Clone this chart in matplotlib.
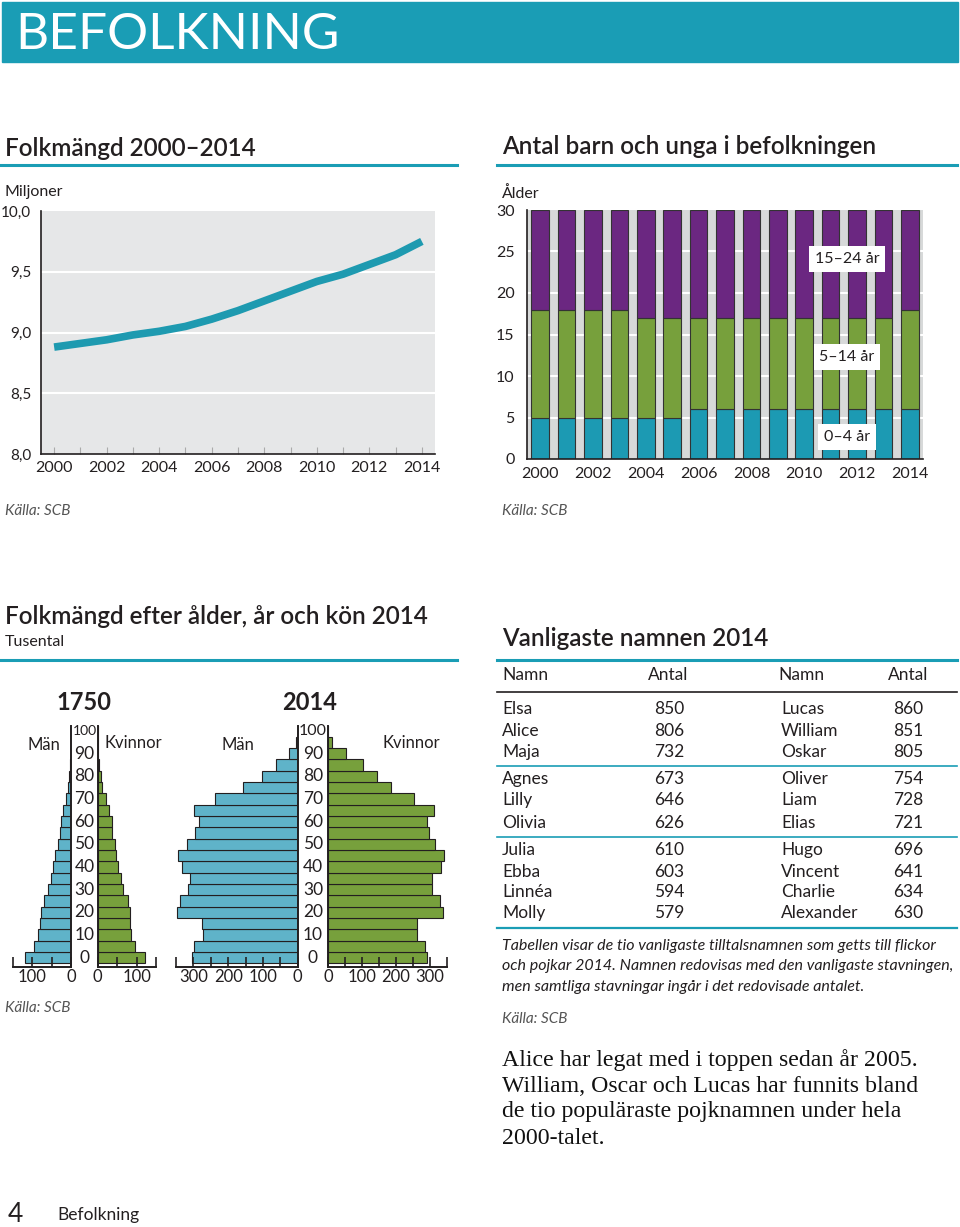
import matplotlib
matplotlib.use("Agg")
import matplotlib.pyplot as plt
from matplotlib.lines import Line2D
from matplotlib.transforms import blended_transform_factory
import numpy as np

# data
years = list(range(2000, 2015))
pop_millions = [8.88, 8.91, 8.94, 8.98, 9.01, 9.05, 9.11, 9.18, 9.26, 9.34,
                9.42, 9.48, 9.56, 9.64, 9.75]

age_0_4 = [5, 5, 5, 5, 5, 5, 6, 6, 6, 6, 6, 6, 6, 6, 6]
age_5_14 = [13, 13, 13, 13, 12, 12, 11, 11, 11, 11, 11, 11, 11, 11, 12]
age_15_24 = [12, 12, 12, 12, 13, 13, 13, 13, 13, 13, 13, 13, 13, 13, 12]
group_labels = ["15–24 år", "5–14 år", "0–4 år"]

ages = list(range(0, 105, 5))  # 0-4 ... 95-99, 100+
men_1750 = [119, 95, 84, 80, 76, 69, 59, 52, 46, 41, 34, 28, 26, 20, 13, 8, 5, 3, 1, 0.5, 0]
women_1750 = [121, 96, 86, 84, 82, 77, 66, 60, 53, 48, 45, 38, 38, 30, 21, 12, 8, 4, 1.5, 0.5, 0]
men_2014 = [303, 297, 273, 276, 348, 338, 316, 311, 334, 345, 319, 294, 284, 299, 238,
            156, 103, 61, 24, 5, 0.5]
women_2014 = [292, 285, 263, 261, 337, 329, 305, 305, 331, 340, 316, 296, 290, 313, 252,
              185, 144, 104, 54, 13, 1]

girls = ["Elsa", "Alice", "Maja", "Agnes", "Lilly", "Olivia", "Julia", "Ebba", "Linnéa", "Molly"]
girls_n = [850, 806, 732, 673, 646, 626, 610, 603, 594, 579]
boys = ["Lucas", "William", "Oskar", "Oliver", "Liam", "Elias", "Hugo", "Vincent", "Charlie", "Alexander"]
boys_n = [860, 851, 805, 754, 728, 721, 696, 641, 634, 630]

# colours
TEAL = "#1a9db5"
LINE_TEAL = "#1e9ab0"
BAR_TEAL = "#1c9ab3"
GREEN = "#77a03c"
PURPLE = "#6b2781"
MALE = "#5fb3c9"
DARK = "#231f20"

plt.rcParams["font.family"] = ["Lato", "DejaVu Sans"]

W, H = 960, 1227
fig = plt.figure(figsize=(W / 100, H / 100), dpi=100)


def rect(x0, y0, x1, y1):
    return [x0 / W, 1 - y1 / H, (x1 - x0) / W, (y1 - y0) / H]


def ftext(x, y, s, **kw):
    kw.setdefault("va", "center")
    kw.setdefault("color", DARK)
    return fig.text(x / W, 1 - y / H, s, **kw)


def hline(y, x0, x1, color=TEAL, lw=2.2):
    fig.add_artist(Line2D([x0 / W, x1 / W], [1 - y / H, 1 - y / H], color=color, lw=lw))


# header banner
fig.add_artist(plt.Rectangle((2 / W, 1 - 62 / H), 956 / W, 60 / H, color=TEAL,
                             transform=fig.transFigure))
ftext(15, 35, "BEFOLKNING", color="white", fontsize=37, fontweight="normal")

# section titles
ftext(5, 148, "Folkmängd 2000–2014", fontsize=17.5, fontweight="semibold")
ftext(502, 146, "Antal barn och unga i befolkningen", fontsize=17.5, fontweight="semibold")
hline(165, 0, 457)
hline(165, 497, 957)

# ---- line chart
ax1 = fig.add_axes(rect(41, 211, 435, 454))
ax1.set_facecolor("#e6e7e8")
ax1.plot(years, pop_millions, color=LINE_TEAL, lw=5.5, solid_capstyle="butt")
ax1.set_xlim(1999.5, 2014.5)
ax1.set_ylim(8.0, 10.0)
ax1.set_yticks([8.0, 8.5, 9.0, 9.5, 10.0])
ax1.set_yticklabels(["8,0", "8,5", "9,0", "9,5", "10,0"])
for v in [8.5, 9.0, 9.5]:
    ax1.axhline(v, color="white", lw=1.5, zorder=0)
ax1.set_xticks(years)
ax1.set_xticklabels([str(y) if y % 2 == 0 else "" for y in years])
ax1.tick_params(axis="x", direction="in", length=5, color="#aaaaaa", labelsize=11.5, pad=5,
                labelcolor=DARK)
ax1.tick_params(axis="y", length=0, labelsize=11, pad=7, labelcolor=DARK)
for s in ["top", "right"]:
    ax1.spines[s].set_visible(False)
for s in ["left", "bottom"]:
    ax1.spines[s].set_color(DARK)
    ax1.spines[s].set_linewidth(1.2)
ftext(5, 192, "Miljoner", fontsize=11.5)
ftext(5, 511, "Källa: SCB", fontsize=11, style="italic", color="#555555")

# ---- stacked bars
ax2 = fig.add_axes(rect(527, 210, 923, 459))
ax2.set_facecolor("#d7d9d9")
bw = 0.67
ax2.bar(years, age_0_4, bw, color=BAR_TEAL, edgecolor="#333333", lw=0.8, zorder=2)
bottom2 = np.array(age_0_4)
ax2.bar(years, age_5_14, bw, bottom=bottom2, color=GREEN, edgecolor="#333333", lw=0.8, zorder=2)
bottom3 = bottom2 + np.array(age_5_14)
ax2.bar(years, age_15_24, bw, bottom=bottom3, color=PURPLE, edgecolor="#333333", lw=0.8, zorder=2)
for v in [5, 10, 15, 20, 25]:
    ax2.axhline(v, color="white", lw=1.5, zorder=1)
ax2.set_xlim(1999.5, 2014.5)
ax2.set_ylim(0, 30)
ax2.set_yticks([0, 5, 10, 15, 20, 25, 30])
ax2.set_xticks(years)
ax2.set_xticklabels([str(y) if y % 2 == 0 else "" for y in years])
ax2.tick_params(axis="x", length=0, labelsize=11.5, pad=6, labelcolor=DARK)
ax2.tick_params(axis="y", length=0, labelsize=11.5, pad=9, labelcolor=DARK)
for s in ["top", "right"]:
    ax2.spines[s].set_visible(False)
for s in ["left", "bottom"]:
    ax2.spines[s].set_color(DARK)
    ax2.spines[s].set_linewidth(1.2)
for lab, yf in zip(group_labels, [0.803, 0.41, 0.088]):
    ax2.text(0.808, yf, lab, transform=ax2.transAxes, ha="center", va="center", fontsize=11.5,
             color=DARK, zorder=5,
             bbox=dict(boxstyle="square,pad=0.35", fc="white", ec="none"))
ftext(502, 194, "Ålder", fontsize=11.5)
ftext(502, 511, "Källa: SCB", fontsize=11, style="italic", color="#555555")

# ---- population pyramids
ftext(5, 616, "Folkmängd efter ålder, år och kön 2014", fontsize=17.5, fontweight="semibold")
ftext(5, 642, "Tusental", fontsize=11.5)
ftext(502, 639, "Vanligaste namnen 2014", fontsize=17.5, fontweight="semibold")
hline(660, 0, 457)
hline(660, 497, 957)

Y_TOP, Y_BOT = 726.4, 966.7


def pyramid(mx0, mx1, fx0, fx1, vmax, men, women, step_lab):
    axm = fig.add_axes(rect(mx0, Y_TOP, mx1, Y_BOT))
    axf = fig.add_axes(rect(fx0, Y_TOP, fx1, Y_BOT))
    axm.barh(ages, men, height=5, align="edge", color=MALE, edgecolor=DARK, lw=0.8)
    axf.barh(ages, women, height=5, align="edge", color=GREEN, edgecolor=DARK, lw=0.8)
    axm.set_xlim(vmax, 0)
    axf.set_xlim(0, vmax)
    ticks = list(range(0, vmax + 1, 50))
    labs = [str(t) if t % step_lab == 0 and t < vmax else "" for t in ticks]
    for ax, hide in [(axm, ["top", "left"]), (axf, ["top", "right"])]:
        ax.set_ylim(-1.5, 104.5)
        ax.set_facecolor("none")
        for s in hide:
            ax.spines[s].set_visible(False)
        for s in ["left", "right", "bottom"]:
            ax.spines[s].set_color(DARK)
            ax.spines[s].set_linewidth(1.4)
        ax.set_yticks([])
        ax.set_xticks(ticks)
        ax.set_xticklabels(labs)
        ax.tick_params(axis="x", direction="in", length=7, width=1.2, color=DARK,
                       labelsize=12, pad=1.5, labelcolor=DARK)
    return axm, axf


axm1, axf1 = pyramid(12.7, 71, 97.7, 156, 150, men_1750, women_1750, 100)
axm2, axf2 = pyramid(176, 297.7, 328, 447, 350, men_2014, women_2014, 100)

for axf, xc, big in [(axf1, 84.5, 10), (axf2, 313, 11.5)]:
    tr = blended_transform_factory(fig.transFigure, axf.transData)
    for a in range(0, 101, 10):
        fig.text(xc / W, a + 2.5, str(a), transform=tr, ha="center", va="center",
                 fontsize=big if a == 100 else 12.5, color=DARK)

ftext(84, 703, "1750", fontsize=17, fontweight="bold", ha="center")
ftext(310, 703, "2014", fontsize=17, fontweight="bold", ha="center")
ftext(44, 745, "Män", fontsize=12, ha="center")
ftext(133, 743, "Kvinnor", fontsize=12, ha="center")
ftext(238, 745, "Män", fontsize=12, ha="center")
ftext(411, 743, "Kvinnor", fontsize=12, ha="center")
ftext(5, 1008, "Källa: SCB", fontsize=11, style="italic", color="#555555")

# ---- names table
ftext(502, 675, "Namn", fontsize=12.5)
ftext(688, 675, "Antal", fontsize=12.5, ha="right")
ftext(778, 675, "Namn", fontsize=12.5)
ftext(928, 675, "Antal", fontsize=12.5, ha="right")
hline(692, 497, 957, color=DARK, lw=1.2)
row_y = [709, 731, 752, 779, 800, 823, 850, 872, 892, 913]
for i in range(len(girls)):
    ftext(502, row_y[i], girls[i], fontsize=12.5)
    ftext(684, row_y[i], str(girls_n[i]), fontsize=12.5, ha="right")
    ftext(781, row_y[i], boys[i], fontsize=12.5)
    ftext(923, row_y[i], str(boys_n[i]), fontsize=12.5, ha="right")
hline(766, 497, 957, lw=1.2)
hline(837, 497, 957, lw=1.2)
hline(928, 497, 957, lw=1.6)

notes = ["Tabellen visar de tio vanligaste tilltalsnamnen som getts till flickor",
         "och pojkar 2014. Namnen redovisas med den vanligaste stavningen,",
         "men samtliga stavningar ingår i det redovisade antalet."]
for t, y in zip(notes, [946, 966, 987]):
    ftext(502, y, t, fontsize=11.5, style="italic")
ftext(502, 1019, "Källa: SCB", fontsize=11, style="italic", color="#555555")

facts = ["Alice har legat med i toppen sedan år 2005.",
         "William, Oscar och Lucas har funnits bland",
         "de tio populäraste pojknamnen under hela",
         "2000-talet."]
for t, y in zip(facts, [1060, 1086, 1112, 1138]):
    ftext(502, y, t, fontsize=17.2, family=["Liberation Serif", "DejaVu Serif"], color="#111111")

# footer
ftext(8, 1215, "4", fontsize=19)
ftext(57, 1215, "Befolkning", fontsize=12.5)

fig.savefig("out.png", dpi=100)
